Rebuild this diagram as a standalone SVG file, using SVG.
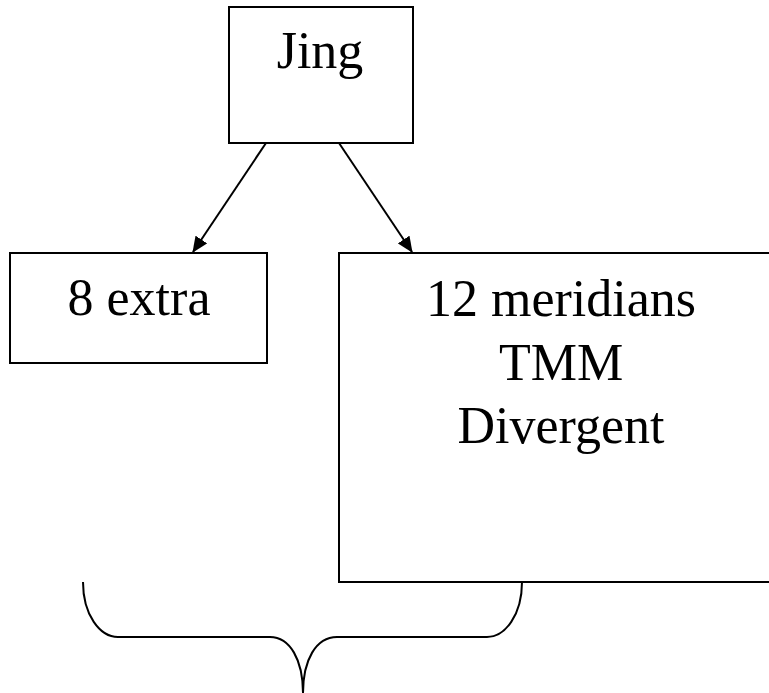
<svg xmlns="http://www.w3.org/2000/svg" width="769" height="693" viewBox="0 0 769 693">
<style>
.box{fill:#fff;stroke:#000;stroke-width:2}
.lbl{font-family:"Liberation Serif","Times New Roman",serif;font-size:52px;fill:#000;text-anchor:middle}
.conn{stroke:#000;stroke-width:2;fill:none}
</style>
<defs>
<marker id="arr" markerWidth="16" markerHeight="14" refX="15" refY="7" orient="auto" markerUnits="userSpaceOnUse">
<path d="M0,0 L16,7 L0,14 Z" fill="#000"/>
</marker>
</defs>
<rect width="769" height="693" fill="#fff"/>
<g id="jing">
<rect class="box" x="229" y="7" width="184" height="136"/>
<text class="lbl" x="320" y="68">Jing</text>
</g>
<g id="extra">
<rect class="box" x="10" y="253" width="257" height="110"/>
<text class="lbl" x="139" y="315">8 extra</text>
</g>
<g id="meridians">
<rect class="box" x="339" y="253" width="444" height="329"/>
<text class="lbl" x="561" y="316">12 meridians</text>
<text class="lbl" x="561" y="380">TMM</text>
<text class="lbl" x="561" y="443">Divergent</text>
</g>
<g id="connectors">
<line class="conn" x1="266" y1="143" x2="193" y2="252" marker-end="url(#arr)"/>
<line class="conn" x1="339" y1="143" x2="412" y2="252" marker-end="url(#arr)"/>
<path class="conn" d="M83,582 C83,615 100,637 118,637 L270,637 C290,637 303,660 303,693 C303,660 316,637 337,637 L487,637 C505,637 522,615 522,582"/>
</g>
</svg>
